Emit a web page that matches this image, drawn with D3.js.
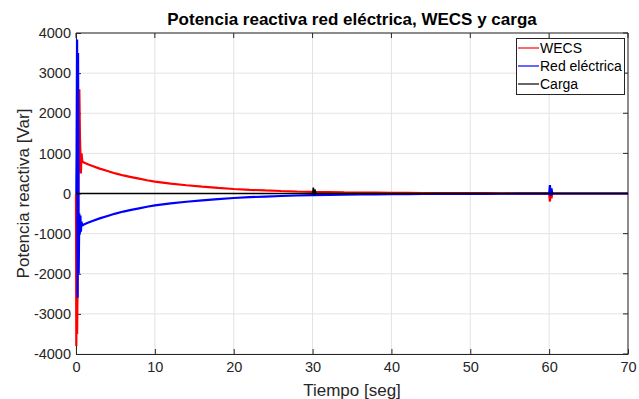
<!DOCTYPE html>
<html>
<head>
<meta charset="utf-8">
<script src="https://cdn.jsdelivr.net/npm/d3@7"></script>
<style>
  body { margin: 0; background: #fff; }
  text { font-family: "Liberation Sans", Arial, sans-serif; fill: #262626; }
</style>
</head>
<body>
<div id="chart"></div>
<script>
// values
var tSeries = [0, 0.04, 0.08, 0.14, 0.2, 0.26, 0.34, 0.42, 0.5, 0.56, 0.62, 0.7, 0.8,
  1, 1.5, 2, 3, 4, 5, 6, 7, 8, 9, 10, 12, 14, 16, 18, 20, 22, 24, 26, 28, 30,
  32, 34, 36, 38, 40, 42, 44, 46, 48, 50, 52, 54, 56, 58, 60,
  60.1, 60.2, 60.3, 60.4, 60.5, 61, 70];
var wecs = [0, -3800, -1900, -3500, -2200, -900, 900, 2600, 1400, 1000, 500, 1000, 800,
  770, 730, 690, 620, 560, 500, 450, 410, 370, 330, 295, 245, 205, 170, 140, 112, 92, 76, 62, 50, 40,
  34, 28, 24, 20, 16, 14, 12, 10, 9, 8, 7, 6, 5, 5, 4,
  -200, 60, -120, 20, 0, 0, 0];
var redElectrica = [0, 0, 1000, 3840, -2600, 3500, -2000, -500, -1000, -550, -950, -700, -800,
  -770, -730, -690, -620, -560, -500, -450, -410, -370, -330, -295, -245, -205, -170, -140, -112, -92, -76, -62, -50, -40,
  -34, -28, -24, -20, -16, -14, -12, -10, -9, -8, -7, -6, -5, -5, -4,
  210, -60, 130, -20, 0, 0, 0];
var tCarga = [0, 30, 30.1, 30.2, 30.3, 30.4, 70];
var carga = [0, 0, 145, -55, 100, 0, 0];

var xTicks = [0, 10, 20, 30, 40, 50, 60, 70];
var yTicks = [-4000, -3000, -2000, -1000, 0, 1000, 2000, 3000, 4000];
var legendNames = ["WECS", "Red eléctrica", "Carga"];
var colors = ["#ff0000", "#0000ff", "#000000"];

var width = 639, height = 399;
var margin = {top: 33, right: 11, bottom: 45, left: 76};

var svg = d3.select("#chart").append("svg")
  .attr("width", width).attr("height", height);

var x = d3.scaleLinear().domain([0, 70]).range([margin.left, width - margin.right]);
var y = d3.scaleLinear().domain([-4000, 4000]).range([height - margin.bottom, margin.top]);

// grid
svg.append("g").selectAll("line").data(xTicks).join("line")
  .attr("x1", d => x(d)).attr("x2", d => x(d))
  .attr("y1", y(-4000)).attr("y2", y(4000))
  .attr("stroke", "#e3e3e3").attr("stroke-width", 1);
svg.append("g").selectAll("line").data(yTicks).join("line")
  .attr("x1", x(0)).attr("x2", x(70))
  .attr("y1", d => y(d)).attr("y2", d => y(d))
  .attr("stroke", "#e3e3e3").attr("stroke-width", 1);

// axes
var xAxis = svg.append("g")
  .attr("transform", "translate(0," + y(-4000) + ")")
  .call(d3.axisBottom(x).tickValues(xTicks).tickSizeInner(-5).tickSizeOuter(0).tickPadding(8));
var yAxis = svg.append("g")
  .attr("transform", "translate(" + x(0) + ",0)")
  .call(d3.axisLeft(y).tickValues(yTicks).tickSizeInner(-5).tickSizeOuter(0).tickPadding(5)
    .tickFormat(d => String(d)));
[xAxis, yAxis].forEach(function(a) {
  a.selectAll("path").attr("stroke", "#262626");
  a.selectAll("line").attr("stroke", "#262626");
  a.selectAll("text").attr("font-size", 14.5).attr("font-family", "Liberation Sans, Arial, sans-serif").attr("fill", "#262626");
});
// top and right box
svg.append("line").attr("x1", x(0)).attr("x2", x(70)).attr("y1", y(4000)).attr("y2", y(4000)).attr("stroke", "#262626");
svg.append("line").attr("x1", x(70)).attr("x2", x(70)).attr("y1", y(4000)).attr("y2", y(-4000)).attr("stroke", "#262626");
svg.append("g").selectAll("line").data(xTicks).join("line")
  .attr("x1", d => x(d)).attr("x2", d => x(d))
  .attr("y1", y(4000)).attr("y2", y(4000) + 5).attr("stroke", "#262626");
svg.append("g").selectAll("line").data(yTicks).join("line")
  .attr("x1", x(70)).attr("x2", x(70) - 5)
  .attr("y1", d => y(d)).attr("y2", d => y(d)).attr("stroke", "#262626");

// series, drawn over the axes
var line = d3.line().x(d => x(d[0])).y(d => y(d[1]));
var series = [
  d3.zip(tSeries, wecs),
  d3.zip(tSeries, redElectrica),
  d3.zip(tCarga, carga)
];
var widths = [2.2, 2.2, 1.6];
svg.append("g").selectAll("path").data(series).join("path")
  .attr("d", line)
  .attr("fill", "none")
  .attr("stroke", (d, i) => colors[i])
  .attr("stroke-width", (d, i) => widths[i])
  .attr("stroke-linejoin", "bevel");

// labels
svg.append("text").attr("x", (x(0) + x(70)) / 2).attr("y", 25)
  .attr("text-anchor", "middle").attr("font-size", 17).attr("font-weight", "bold")
  .style("fill", "#000")
  .text("Potencia reactiva red eléctrica, WECS y carga");
svg.append("text").attr("x", (x(0) + x(70)) / 2).attr("y", 396)
  .attr("text-anchor", "middle").attr("font-size", 17)
  .text("Tiempo [seg]");
svg.append("text")
  .attr("transform", "translate(29," + y(0) + ") rotate(-90)")
  .attr("text-anchor", "middle").attr("font-size", 17)
  .text("Potencia reactiva [Var]");

// legend
var lg = svg.append("g");
lg.append("rect").attr("x", 516.5).attr("y", 38.5).attr("width", 108).attr("height", 56)
  .attr("fill", "#fff").attr("stroke", "#262626").attr("stroke-width", 1);
var items = lg.selectAll("g.item").data(legendNames).join("g")
  .attr("transform", (d, i) => "translate(0," + (48 + i * 18) + ")");
items.append("line").attr("x1", 518).attr("x2", 539).attr("y1", 0).attr("y2", 0)
  .attr("stroke", (d, i) => colors[i]).attr("stroke-width", 1.2);
items.append("text").attr("x", 540).attr("y", 5).attr("font-size", 14)
  .style("fill", "#000").text(d => d);
</script>
</body>
</html>
